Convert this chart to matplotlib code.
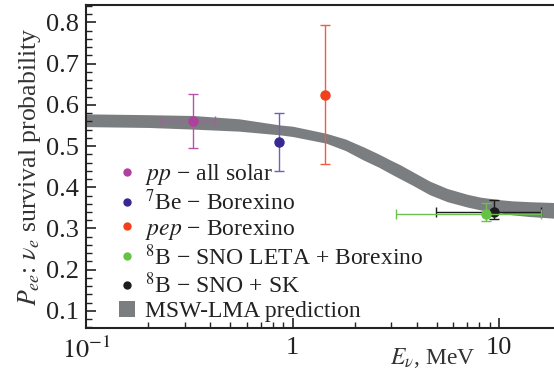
import numpy as np
import matplotlib
matplotlib.use("Agg")
import matplotlib.pyplot as plt
from matplotlib.lines import Line2D
from matplotlib.patches import Patch

plt.rcParams['font.family'] = 'Liberation Serif'
plt.rcParams['mathtext.fontset'] = 'stix'

# MSW-LMA prediction band
band_e = [0.1, 0.2, 0.33, 0.55, 0.87, 1.0, 1.45, 1.8, 2.2, 2.6, 3.0, 3.3, 3.8, 4.6, 5.6, 7.0, 8.1, 10.0, 11.6, 14.0, 18.4]
band_hi = [0.578, 0.576, 0.574, 0.566, 0.551, 0.548, 0.531, 0.517, 0.498, 0.481, 0.465, 0.455, 0.438, 0.415, 0.397, 0.383, 0.376, 0.370, 0.367, 0.365, 0.363]
band_lo = [0.547, 0.545, 0.541, 0.536, 0.527, 0.523, 0.507, 0.489, 0.466, 0.449, 0.432, 0.421, 0.405, 0.382, 0.365, 0.352, 0.345, 0.338, 0.333, 0.329, 0.325]

# measurements: energy, x-error range, P_ee, y-error range
labels = ["$pp$ \u2212 all solar", "$^{7}$Be \u2212 Borexino", "$pep$ \u2212 Borexino",
          "$^{8}$B \u2212 SNO LETA + Borexino", "$^{8}$B \u2212 SNO + SK"]
energy = [0.33, 0.862, 1.44, 8.6, 9.45]
e_lo = [0.231, None, None, 3.18, 4.93]
e_hi = [0.42, None, None, 16.0, 16.0]
pee = [0.561, 0.510, 0.624, 0.336, 0.341]
pee_lo = [0.496, 0.440, 0.456, 0.317, 0.322]
pee_hi = [0.625, 0.581, 0.793, 0.361, 0.369]

marker_colors = ["#b0409e", "#36298f", "#f0401e", "#66c244", "#1c1c1c"]
bar_colors = ["#b455a8", "#6e62b4", "#f25a44", "#6cc04c", "#1c1c1c"]
band_color = "#7b7e81"
draw_order = [0, 1, 2, 4, 3]
serif = 'Liberation Serif'

fig = plt.figure(figsize=(5.54, 3.72), dpi=100)
ax = fig.add_axes([0.1554, 0.1175, 0.8446, 0.8691])

ax.fill_between(band_e, band_lo, band_hi, color=band_color, lw=0, zorder=1)

for k, i in enumerate(draw_order):
    xerr = None
    if e_lo[i] is not None:
        xerr = [[energy[i] - e_lo[i]], [e_hi[i] - energy[i]]]
    yerr = [[pee[i] - pee_lo[i]], [pee_hi[i] - pee[i]]]
    ax.errorbar([energy[i]], [pee[i]], xerr=xerr, yerr=yerr, fmt='none',
                ecolor=bar_colors[i], elinewidth=1.0, capsize=3.5, capthick=1.0, zorder=2 + 2 * k)
    ax.plot([energy[i]], [pee[i]], 'o', color=marker_colors[i], ms=6.5, zorder=3 + 2 * k)

ax.set_xscale('log')
ax.set_xlim(0.1, 18.4)
ax.set_ylim(0.058, 0.842)
ax.set_yticks([0.1, 0.2, 0.3, 0.4, 0.5, 0.6, 0.7, 0.8])
ax.set_yticklabels(["0.1", "0.2", "0.3", "0.4", "0.5", "0.6", "0.7", "0.8"], family=serif)
ax.set_yticks(np.arange(0.06, 0.842, 0.02), minor=True)
ax.set_xticks([0.1, 1, 10])
ax.set_xticklabels(["$10^{-1}$", "1", "10"], family=serif)
ax.tick_params(which='both', direction='in', top=False, right=False, labelsize=19, colors='#222222')
ax.tick_params(which='major', length=7, width=1.2)
ax.tick_params(which='minor', length=4, width=1.0)
ax.tick_params(axis='x', pad=6)
ax.tick_params(axis='y', pad=5)
for s in ['left', 'bottom', 'top']:
    ax.spines[s].set_linewidth(1.5)
    ax.spines[s].set_color('#222222')
ax.spines['right'].set_visible(False)

ax.set_ylabel("$P_{ee}$: $\\nu_e$ survival probability", fontsize=18.5, color='#333333',
              labelpad=2, family=serif)
ax.text(0.74, -0.092, "$E_\\nu$, MeV", transform=ax.transAxes, fontsize=17, family=serif,
        color='#333333', ha='center', va='center')

handles = [Line2D([], [], ls='none', marker='o', color=c, ms=5) for c in marker_colors]
handles.append(Patch(facecolor=band_color, edgecolor='none'))
leg = ax.legend(handles, labels + ["MSW-LMA prediction"], loc='lower left',
                bbox_to_anchor=(0.05, -0.01), frameon=False, prop={'family': serif, 'size': 17},
                handlelength=0.7, handletextpad=0.4, labelspacing=0.11, borderaxespad=0)
for t in leg.get_texts():
    t.set_color('#222222')

fig.savefig("out.png", dpi=100)
